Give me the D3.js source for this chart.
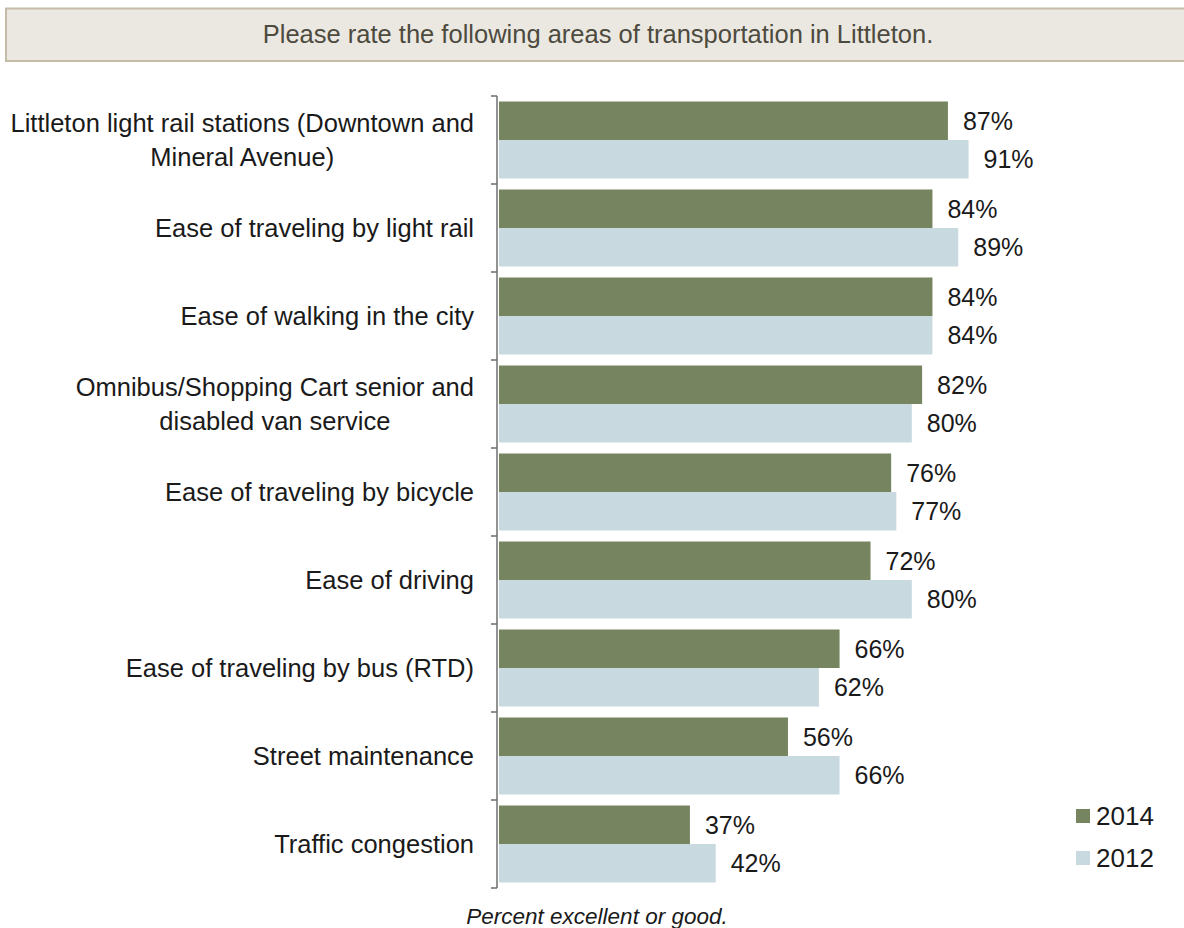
<!DOCTYPE html>
<html>
<head>
<meta charset="utf-8">
<script src="https://cdn.jsdelivr.net/npm/d3@7/dist/d3.min.js"></script>
<style>
  html, body { margin: 0; padding: 0; background: #fff; }
  svg { display: block; }
</style>
</head>
<body>
<svg id="chart" width="1184" height="928"></svg>
<script>
// Transportation ratings, percent "excellent" or "good"
const categories = [
  ["Littleton light rail stations (Downtown and", "Mineral Avenue)"],
  ["Ease of traveling by light rail"],
  ["Ease of walking in the city"],
  ["Omnibus/Shopping Cart senior and", "disabled van service"],
  ["Ease of traveling by bicycle"],
  ["Ease of driving"],
  ["Ease of traveling by bus (RTD)"],
  ["Street maintenance"],
  ["Traffic congestion"]
];
const seriesNames = ["2014", "2012"];
const values2014 = [87, 84, 84, 82, 76, 72, 66, 56, 37];
const values2012 = [91, 89, 84, 80, 77, 80, 62, 66, 42];
const seriesColors = ["#76845f", "#c8dae0"];
const titleText = "Please rate the following areas of transportation in Littleton.";
const footText = "Percent excellent or good.";

const svg = d3.select("#chart");
const font = "'Liberation Sans', Arial, sans-serif";

// Title banner
svg.append("rect")
  .attr("x", 6).attr("y", 8.5).attr("width", 1190).attr("height", 52.5)
  .attr("fill", "#ebe8e1").attr("stroke", "#c4bba8").attr("stroke-width", 2);
svg.append("text")
  .attr("x", 598).attr("y", 34).attr("dy", "0.35em")
  .attr("text-anchor", "middle")
  .attr("font-family", font).attr("font-size", 25.5)
  .attr("fill", "#4d4a3e")
  .text(titleText);

const keys = categories.map((c, i) => i);
const y = d3.scaleBand().domain(keys).range([96, 888]).paddingInner(0.125).paddingOuter(0.0625);
const ySub = d3.scaleBand().domain(seriesNames).range([0, y.bandwidth()]);
const x = d3.scaleLinear().domain([0, 100]).range([499, 1015]);

const rows = keys.map(i => ({ i, vals: [values2014[i], values2012[i]] }));

const g = svg.append("g");
const groups = g.selectAll("g.row").data(rows).join("g")
  .attr("class", "row")
  .attr("transform", d => `translate(0,${y(d.i)})`);

groups.selectAll("rect").data(d => d.vals.map((v, k) => ({ v, k }))).join("rect")
  .attr("x", x(0))
  .attr("y", d => ySub(seriesNames[d.k]))
  .attr("width", d => x(d.v) - x(0))
  .attr("height", ySub.bandwidth())
  .attr("fill", d => seriesColors[d.k]);

groups.selectAll("text.val").data(d => d.vals.map((v, k) => ({ v, k }))).join("text")
  .attr("class", "val")
  .attr("x", d => x(d.v) + 15)
  .attr("y", d => ySub(seriesNames[d.k]) + ySub.bandwidth() / 2)
  .attr("dy", "0.35em")
  .attr("font-family", font).attr("font-size", 25)
  .attr("fill", "#1a1a1a")
  .text(d => d.v + "%");

// Category axis with ticks at band boundaries
const axisX = 497;
const boundaries = d3.range(categories.length + 1).map(i => 96 + i * (792 / categories.length));
svg.append("line")
  .attr("x1", axisX).attr("x2", axisX)
  .attr("y1", boundaries[0]).attr("y2", boundaries[boundaries.length - 1])
  .attr("stroke", "#6e6e6e").attr("stroke-width", 1.5);
svg.selectAll("line.tick").data(boundaries).join("line")
  .attr("class", "tick")
  .attr("x1", axisX - 6).attr("x2", axisX)
  .attr("y1", d => d).attr("y2", d => d)
  .attr("stroke", "#6e6e6e").attr("stroke-width", 1.5);

// Category labels
const labels = svg.selectAll("text.cat").data(rows).join("text")
  .attr("class", "cat")
  .attr("text-anchor", "middle")
  .attr("font-family", font).attr("font-size", 25.5)
  .attr("fill", "#1a1a1a");
labels.each(function(d) {
  const lines = categories[d.i];
  const cy = y(d.i) + y.bandwidth() / 2;
  const lh = 34;
  const t = d3.select(this);
  lines.forEach((ln, j) => {
    t.append("tspan")
      .attr("y", cy + (j - (lines.length - 1) / 2) * lh)
      .attr("dy", "0.35em")
      .text(ln);
  });
});
// right-align block, centre lines within block
labels.each(function(d) {
  const t = d3.select(this);
  const widths = [];
  t.selectAll("tspan").each(function() { widths.push(this.getComputedTextLength()); });
  const w = d3.max(widths);
  const cx = 474 - w / 2;
  t.selectAll("tspan").attr("x", cx);
});

// Legend
const legend = svg.append("g");
seriesNames.forEach((name, k) => {
  const ly = 816 + k * 42;
  legend.append("rect")
    .attr("x", 1076).attr("y", ly - 7).attr("width", 14).attr("height", 14)
    .attr("fill", seriesColors[k]);
  legend.append("text")
    .attr("x", 1096).attr("y", ly).attr("dy", "0.35em")
    .attr("font-family", font).attr("font-size", 26)
    .attr("fill", "#1a1a1a")
    .text(name);
});

// Footnote
svg.append("text")
  .attr("x", 597).attr("y", 916).attr("dy", "0.35em")
  .attr("text-anchor", "middle")
  .attr("font-family", font).attr("font-size", 22.5).attr("font-style", "italic")
  .attr("fill", "#1a1a1a")
  .text(footText);
</script>
</body>
</html>
